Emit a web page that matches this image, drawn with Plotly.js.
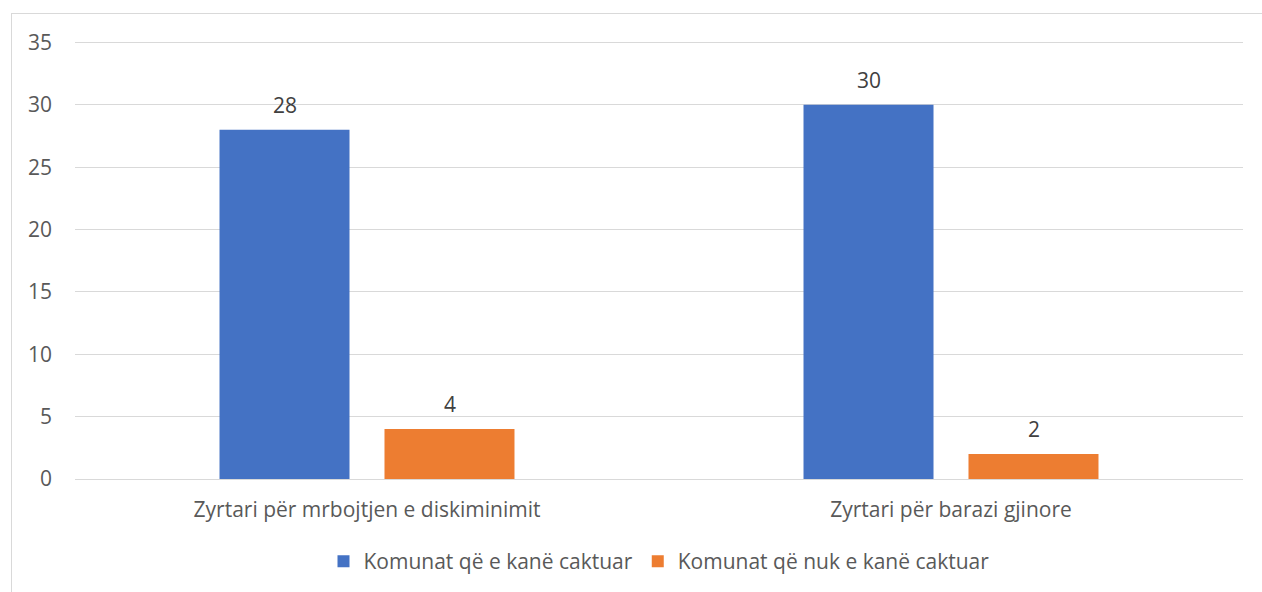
<!DOCTYPE html>
<html>
<head>
<meta charset="utf-8">
<script src="https://cdn.plot.ly/plotly-3.0.1.min.js"></script>
<style>
  body { margin: 0; background: #fff; }
  #myDiv { position: absolute; left: 0; top: 0; width: 1262px; height: 592px; }
  #frame { position: absolute; left: 11px; top: 13px; width: 1262px; height: 600px;
           border-left: 1px solid #d9d9d9; border-top: 1px solid #d9d9d9; pointer-events: none; }
</style>
</head>
<body>
<div id="myDiv"></div>
<div id="frame"></div>
<script>
let kategorite = ["Zyrtari për mrbojtjen e diskiminimit", "Zyrtari për barazi gjinore"];
let caktuar = [28, 30];
let paCaktuar = [4, 2];
let emrat = ["Komunat që e kanë caktuar", "Komunat që nuk e kanë caktuar"];
let ngjyrat = ["#4472c4", "#ed7d31"];

let fontiTekst = "'Open Sans', 'Noto Sans', sans-serif";

var data = [
    {
        x: kategorite,
        y: caktuar,
        name: emrat[0],
        type: 'bar',
        marker: { color: ngjyrat[0] },
        hoverinfo: 'none'
    },
    {
        x: kategorite,
        y: paCaktuar,
        name: emrat[1],
        type: 'bar',
        marker: { color: ngjyrat[1] },
        hoverinfo: 'none'
    }
];

// etiketat mbi shtylla
let shenimet = [];
[caktuar, paCaktuar].forEach((seria, i) => {
    seria.forEach((v, j) => {
        shenimet.push({
            x: kategorite[j],
            y: v,
            text: String(v),
            showarrow: false,
            xshift: i === 0 ? -82.5 : 82.5,
            yshift: 25,
            font: { family: fontiTekst, size: 21, color: '#404040' }
        });
    });
});

var layout = {
    width: 1262,
    height: 592,
    // vija e 35 duhet pak hapesire qe te mos pritet nga skaji
    margin: { l: 75, r: 19, t: 40, b: 113, autoexpand: false },
    paper_bgcolor: '#fff',
    plot_bgcolor: '#fff',
    barmode: 'group',
    bargap: 0.435,
    bargroupgap: 0.212,
    font: { family: fontiTekst, size: 21, color: '#595959' },
    xaxis: {
        automargin: false,
        showgrid: false,
        zeroline: false,
        showline: false,
        ticks: '',
        ticklabelstandoff: 16,
        tickfont: { size: 21, color: '#595959' }
    },
    yaxis: {
        automargin: false,
        range: [0, 35.2],
        tickvals: [0, 5, 10, 15, 20, 25, 30, 35],
        showgrid: true,
        gridcolor: '#d9d9d9',
        gridwidth: 1,
        zeroline: true,
        zerolinecolor: '#d9d9d9',
        showline: false,
        ticks: '',
        ticklabelstandoff: 22,
        tickfont: { size: 21, color: '#595959' }
    },
    showlegend: true,
    legend: {
        orientation: 'h',
        x: 0.5,
        xanchor: 'center',
        y: -0.188,
        yanchor: 'middle',
        font: { size: 21, color: '#595959' },
        itemwidth: 30
    },
    annotations: shenimet
};

Plotly.newPlot('myDiv', data, layout, { staticPlot: true });
</script>
</body>
</html>
